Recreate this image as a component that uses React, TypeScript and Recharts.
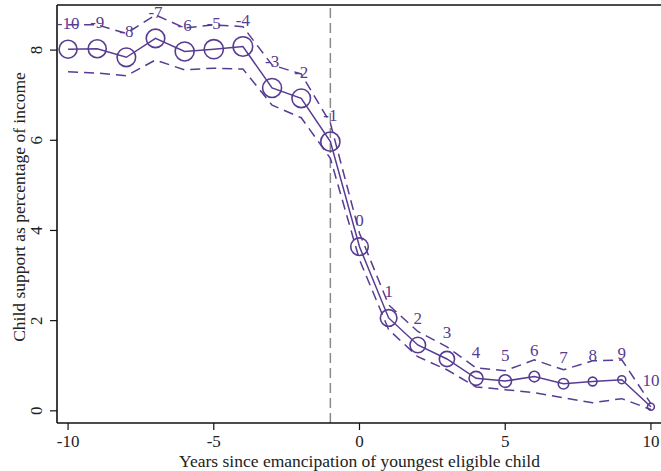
import {
  ComposedChart,
  Line,
  XAxis,
  YAxis,
  ReferenceLine,
  LabelList,
} from "recharts";

const years = [-10, -9, -8, -7, -6, -5, -4, -3, -2, -1, 0, 1, 2, 3, 4, 5, 6, 7, 8, 9, 10];
const share = [8.02, 8.03, 7.84, 8.26, 7.97, 8.02, 8.08, 7.16, 6.93, 5.97, 3.64, 2.06, 1.46, 1.15, 0.72, 0.66, 0.76, 0.6, 0.65, 0.69, 0.09];
const upper = [8.56, 8.56, 8.37, 8.78, 8.49, 8.56, 8.52, 7.67, 7.47, 6.38, 3.94, 2.35, 1.76, 1.42, 0.95, 0.89, 1.13, 0.91, 1.11, 1.13, 0.16];
const lower = [7.52, 7.49, 7.43, 7.78, 7.56, 7.6, 7.58, 6.78, 6.5, 5.6, 3.35, 1.8, 1.2, 0.91, 0.53, 0.47, 0.4, 0.29, 0.18, 0.27, 0.03];
// relative number of observations (marker area)
const weight = [81, 81, 86, 86, 90, 92, 96, 90, 86, 92, 77, 69, 61, 58, 49, 40, 28, 28, 19, 16, 12];
const xTicks = [-10, -5, 0, 5, 10];
const yTicks = [0, 2, 4, 6, 8];

const purple = "#573c92";
const font = "Liberation Serif, serif";

const data = years.map((year, i) => ({
  year,
  share: share[i],
  upper: upper[i],
  lower: lower[i],
  weight: weight[i],
}));

const XTick = ({ x, y, payload }: any) => (
  <text x={x} y={y + 9} textAnchor="middle" dominantBaseline="central" fontSize={17} fontFamily={font} fill="#222">
    {payload.value}
  </text>
);

const YTick = ({ x, y, payload }: any) => (
  <text
    x={x - 11}
    y={y}
    transform={`rotate(-90, ${x - 11}, ${y})`}
    textAnchor="middle"
    dominantBaseline="central"
    fontSize={17}
    fontFamily={font}
    fill="#222"
  >
    {payload.value}
  </text>
);

const Marker = (props: any) => {
  const { cx, cy, payload, index } = props;
  return (
    <circle
      key={`m-${index}`}
      cx={cx}
      cy={cy}
      r={Math.sqrt(payload.weight)}
      fill="none"
      stroke={purple}
      strokeWidth={1.6}
    />
  );
};

const PointLabel = (props: any) => {
  const { x, y, value, index } = props;
  return (
    <text
      key={`l-${index}`}
      x={x}
      y={y - 26}
      textAnchor="middle"
      dominantBaseline="central"
      fontSize={17}
      fontFamily={font}
      fill={purple}
    >
      {value}
    </text>
  );
};

export default function App() {
  return (
    <div
      style={{
        position: "absolute",
        left: 0,
        top: 0,
        width: 661,
        height: 471,
        overflow: "hidden",
        background: "#fff",
        fontFamily: font,
      }}
    >
      <ComposedChart
        width={680}
        height={471}
        data={data}
        margin={{ top: 5, right: 18, bottom: 0, left: 0 }}
      >
        <XAxis
          type="number"
          dataKey="year"
          domain={[-10.38, 10.38]}
          ticks={xTicks}
          allowDataOverflow
          height={48}
          tickSize={7}
          axisLine={{ stroke: "#111", strokeWidth: 1.6 }}
          tickLine={{ stroke: "#111", strokeWidth: 1.2 }}
          tick={<XTick />}
          label={{
            value: "Years since emancipation of youngest eligible child",
            position: "insideBottom",
            offset: 4,
            fontSize: 17.5,
            fontFamily: font,
            fill: "#222",
          }}
        />
        <YAxis
          type="number"
          domain={[-0.27, 9.0]}
          ticks={yTicks}
          allowDataOverflow
          width={57}
          tickSize={7}
          axisLine={{ stroke: "#111", strokeWidth: 1.6 }}
          tickLine={{ stroke: "#111", strokeWidth: 1.2 }}
          tick={<YTick />}
          label={{
            value: "Child support as percentage of income",
            angle: -90,
            position: "center",
            dx: -10,
            dy: -7,
            fontSize: 17.5,
            fontFamily: font,
            fill: "#222",
          }}
        />
        <ReferenceLine y={9.0} stroke="#111" strokeWidth={1.6} />
        <ReferenceLine x={-1} stroke="#8a8a8a" strokeWidth={1.5} strokeDasharray="10 5" />
        <Line
          type="linear"
          dataKey="upper"
          stroke={purple}
          strokeWidth={1.5}
          strokeDasharray="10 6"
          dot={false}
          activeDot={false}
          isAnimationActive={false}
        />
        <Line
          type="linear"
          dataKey="lower"
          stroke={purple}
          strokeWidth={1.5}
          strokeDasharray="10 6"
          dot={false}
          activeDot={false}
          isAnimationActive={false}
        />
        <Line
          type="linear"
          dataKey="share"
          stroke={purple}
          strokeWidth={1.5}
          dot={<Marker />}
          activeDot={false}
          isAnimationActive={false}
        >
          <LabelList dataKey="year" content={<PointLabel />} />
        </Line>
      </ComposedChart>
    </div>
  );
}
